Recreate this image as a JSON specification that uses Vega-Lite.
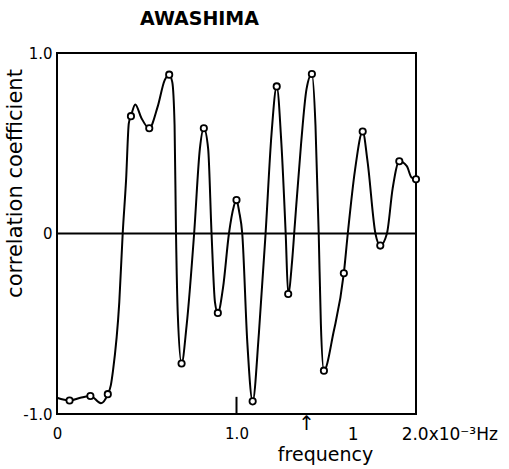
{
  "$schema": "https://vega.github.io/schema/vega-lite/v6.json",
  "width": 359,
  "height": 361,
  "autosize": {"type": "none"},
  "padding": {"left": 57, "top": 53, "right": 93, "bottom": 55},
  "background": "white",
  "config": {
    "view": {"stroke": "black", "strokeWidth": 2},
    "font": "DejaVu Sans"
  },
  "datasets": {
    "curve": [
      {"f": 0.0, "r": -0.91},
      {"f": 0.07, "r": -0.925},
      {"f": 0.13, "r": -0.91},
      {"f": 0.186, "r": -0.9},
      {"f": 0.245, "r": -0.94},
      {"f": 0.283, "r": -0.89},
      {"f": 0.30, "r": -0.84},
      {"f": 0.312, "r": -0.76},
      {"f": 0.347, "r": -0.38},
      {"f": 0.366, "r": 0.0},
      {"f": 0.385, "r": 0.3},
      {"f": 0.40, "r": 0.61},
      {"f": 0.412, "r": 0.65},
      {"f": 0.436, "r": 0.715},
      {"f": 0.47, "r": 0.64},
      {"f": 0.514, "r": 0.583},
      {"f": 0.56, "r": 0.7},
      {"f": 0.60, "r": 0.85},
      {"f": 0.625, "r": 0.88},
      {"f": 0.642, "r": 0.84},
      {"f": 0.655, "r": 0.6},
      {"f": 0.663, "r": 0.0},
      {"f": 0.673, "r": -0.45},
      {"f": 0.694, "r": -0.72},
      {"f": 0.722, "r": -0.51},
      {"f": 0.764, "r": 0.0},
      {"f": 0.796, "r": 0.47},
      {"f": 0.818, "r": 0.583},
      {"f": 0.842, "r": 0.47},
      {"f": 0.861, "r": 0.0},
      {"f": 0.88, "r": -0.38},
      {"f": 0.896, "r": -0.44},
      {"f": 0.925, "r": -0.3},
      {"f": 0.958, "r": 0.0},
      {"f": 0.985, "r": 0.15},
      {"f": 1.0, "r": 0.185},
      {"f": 1.015, "r": 0.12},
      {"f": 1.032, "r": 0.0},
      {"f": 1.06, "r": -0.6},
      {"f": 1.09, "r": -0.93},
      {"f": 1.125, "r": -0.55},
      {"f": 1.162, "r": 0.0},
      {"f": 1.195, "r": 0.55},
      {"f": 1.224, "r": 0.815},
      {"f": 1.25, "r": 0.5},
      {"f": 1.274, "r": 0.0},
      {"f": 1.288, "r": -0.335},
      {"f": 1.31, "r": -0.15},
      {"f": 1.325, "r": 0.05},
      {"f": 1.36, "r": 0.5},
      {"f": 1.39, "r": 0.8},
      {"f": 1.42, "r": 0.884},
      {"f": 1.44, "r": 0.6},
      {"f": 1.458, "r": 0.0},
      {"f": 1.47, "r": -0.5},
      {"f": 1.487, "r": -0.76},
      {"f": 1.54, "r": -0.55},
      {"f": 1.598, "r": -0.22},
      {"f": 1.62, "r": 0.0},
      {"f": 1.66, "r": 0.35},
      {"f": 1.703, "r": 0.565},
      {"f": 1.73, "r": 0.4},
      {"f": 1.774, "r": 0.0},
      {"f": 1.801, "r": -0.067},
      {"f": 1.838, "r": 0.0},
      {"f": 1.87, "r": 0.25},
      {"f": 1.907, "r": 0.4},
      {"f": 1.949, "r": 0.373},
      {"f": 1.975, "r": 0.31},
      {"f": 2.0, "r": 0.3}
    ],
    "samples": [
      {"f": 0.07, "r": -0.925},
      {"f": 0.186, "r": -0.9},
      {"f": 0.283, "r": -0.89},
      {"f": 0.412, "r": 0.65},
      {"f": 0.514, "r": 0.583},
      {"f": 0.625, "r": 0.88},
      {"f": 0.694, "r": -0.72},
      {"f": 0.818, "r": 0.583},
      {"f": 0.896, "r": -0.44},
      {"f": 1.0, "r": 0.185},
      {"f": 1.09, "r": -0.93},
      {"f": 1.224, "r": 0.815},
      {"f": 1.288, "r": -0.335},
      {"f": 1.42, "r": 0.884},
      {"f": 1.487, "r": -0.76},
      {"f": 1.598, "r": -0.22},
      {"f": 1.703, "r": 0.565},
      {"f": 1.801, "r": -0.067},
      {"f": 1.907, "r": 0.4},
      {"f": 2.0, "r": 0.3}
    ],
    "notes": [
      {"f": 1.39, "r": -1.0, "label": "↑", "kind": "arrow"},
      {"f": 1.62, "r": -1.0, "label": "1", "kind": "mark"},
      {"f": 1.92, "r": -1.0, "label": "2.0x10⁻³Hz", "kind": "unit"}
    ],
    "rules": [
      {"f": 0.0, "f2": 2.0, "r": 0.0, "r2": 0.0},
      {"f": 1.0, "f2": 1.0, "r": -1.0, "r2": -0.905}
    ],
    "xticks": [
      {"f": 0.1}, {"f": 0.2}, {"f": 0.3}, {"f": 0.4}, {"f": 0.5}, {"f": 0.6}, {"f": 0.7}, {"f": 0.8}, {"f": 0.9},
      {"f": 1.1}, {"f": 1.2}, {"f": 1.3}, {"f": 1.4}, {"f": 1.5}, {"f": 1.6}, {"f": 1.7}, {"f": 1.8}, {"f": 1.9}
    ],
    "yticks": [
      {"r": -0.9}, {"r": -0.8}, {"r": -0.7}, {"r": -0.6}, {"r": -0.5}, {"r": -0.4}, {"r": -0.3}, {"r": -0.2}, {"r": -0.1},
      {"r": 0.1}, {"r": 0.2}, {"r": 0.3}, {"r": 0.4}, {"r": 0.5}, {"r": 0.6}, {"r": 0.7}, {"r": 0.8}, {"r": 0.9}
    ]
  },
  "title": {
    "text": "AWASHIMA",
    "fontSize": 19,
    "fontWeight": "bold",
    "font": "DejaVu Sans",
    "anchor": "middle",
    "frame": "group",
    "dx": -37,
    "offset": 17,
    "color": "black"
  },
  "encoding": {
    "x": {
      "field": "f", "type": "quantitative",
      "scale": {"domain": [0, 2], "nice": false, "zero": false},
      "axis": {
        "values": [0, 1],
        "labelExpr": "datum.value == 0 ? '0' : '1.0'",
        "labelOverlap": false,
        "labelBound": false,
        "ticks": false,
        "domain": false,
        "grid": false,
        "labelFontSize": 15,
        "labelColor": "black",
        "labelPadding": 12,
        "labelFlush": false,
        "title": "frequency",
        "titleFontSize": 19,
        "titleFontWeight": "normal",
        "titleColor": "black",
        "titleX": 268,
        "titleY": 46,
        "titleAnchor": "middle",
        "titleAlign": "center",
        "titleBaseline": "alphabetic"
      }
    },
    "y": {
      "field": "r", "type": "quantitative",
      "scale": {"domain": [-1, 1], "nice": false, "zero": false},
      "axis": {
        "values": [-1, 0, 1],
        "labelExpr": "datum.value == 0 ? '0' : (datum.value > 0 ? '1.0' : '-1.0')",
        "labelOverlap": false,
        "labelBound": false,
        "ticks": false,
        "domain": false,
        "grid": false,
        "labelFontSize": 15,
        "labelColor": "black",
        "labelPadding": 5,
        "labelFlush": false,
        "title": "correlation coefficient",
        "titleFontSize": 21,
        "titleFontWeight": "normal",
        "titleColor": "black",
        "titleX": -42,
        "titleY": 130,
        "titleAngle": -90,
        "titleAlign": "center",
        "titleBaseline": "middle"
      }
    }
  },
  "layer": [
    {
      "data": {"name": "rules"},
      "mark": {"type": "rule", "color": "black", "strokeWidth": 2},
      "encoding": {
        "x2": {"field": "f2"},
        "y2": {"field": "r2"}
      }
    },
    {
      "data": {"name": "curve"},
      "mark": {"type": "line", "color": "black", "strokeWidth": 2, "interpolate": "monotone"}
    },
    {
      "data": {"name": "samples"},
      "mark": {"type": "point", "shape": "circle", "filled": true, "fill": "white", "stroke": "black", "strokeWidth": 1.8, "size": 40, "opacity": 1}
    },
    {
      "data": {"name": "notes"},
      "transform": [{"filter": "datum.kind == 'arrow'"}],
      "mark": {"type": "text", "fontSize": 20, "baseline": "top", "dy": 0, "color": "black"},
      "encoding": {
        "text": {"field": "label"}
      }
    },
    {
      "data": {"name": "notes"},
      "transform": [{"filter": "datum.kind != 'arrow'"}],
      "mark": {"type": "text", "fontSize": 17, "baseline": "top", "align": "left", "dx": 0, "dy": 13, "color": "black"},
      "encoding": {
        "text": {"field": "label"}
      }
    },
    {
      "data": {"name": "xticks"},
      "mark": {"type": "text", "text": "|", "fontSize": 10, "fontWeight": "bold", "baseline": "bottom", "dy": 1, "color": "black"},
      "encoding": {
        "y": {"datum": -1, "type": "quantitative"}
      }
    },
    {
      "data": {"name": "yticks"},
      "mark": {"type": "text", "text": "–", "fontSize": 13, "fontWeight": "bold", "align": "left", "baseline": "middle", "dx": -1, "color": "black"},
      "encoding": {
        "x": {"datum": 0, "type": "quantitative"}
      }
    }
  ]
}
